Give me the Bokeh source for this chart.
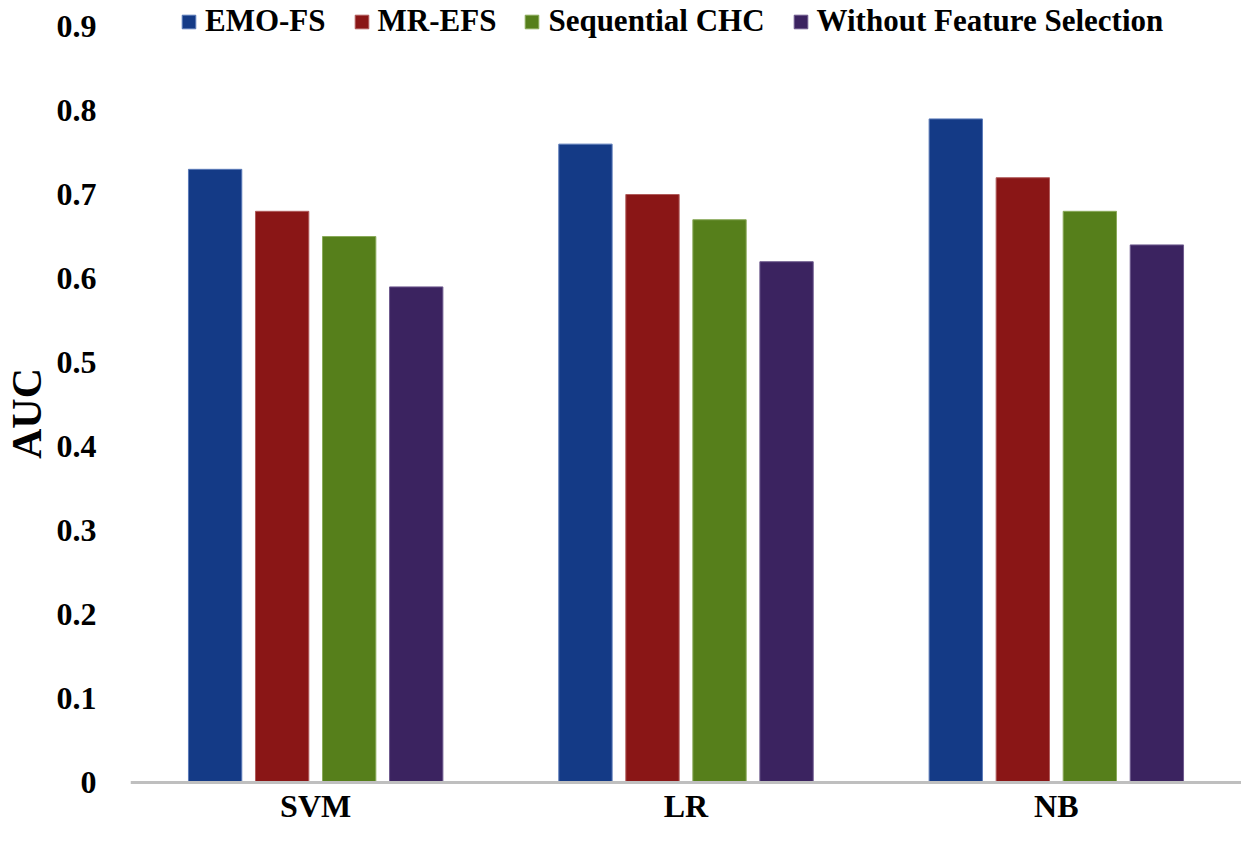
from bokeh.plotting import figure
from bokeh.models import FactorRange, Range1d, Legend, LegendItem, FixedTicker, ColumnDataSource
from bokeh.transform import dodge
from bokeh.embed import file_html
from bokeh.resources import INLINE

classifiers = ["SVM", "LR", "NB"]
methods = ["EMO-FS", "MR-EFS", "Sequential CHC", "Without Feature Selection"]
emo_fs = [0.73, 0.76, 0.79]
mr_efs = [0.68, 0.70, 0.72]
seq_chc = [0.65, 0.67, 0.68]
without_fs = [0.59, 0.62, 0.64]
y_ticks = [0, 0.1, 0.2, 0.3, 0.4, 0.5, 0.6, 0.7, 0.8, 0.9]

fills = ["#143A86", "#8A1616", "#567F1B", "#3B2360"]
edges = ["#5A7AB8", "#B05A5A", "#8AAA5A", "#6E5A8E"]
FONT = "Liberation Serif"

src = ColumnDataSource(dict(cls=classifiers, emo=emo_fs, mr=mr_efs, seq=seq_chc, wfs=without_fs))

p = figure(width=1241, height=826, output_backend="svg", toolbar_location=None,
           x_range=FactorRange(*classifiers, range_padding=0), y_range=Range1d(-0.0524, 0.931))
p.min_border_left = 124
p.min_border_right = 0
p.min_border_top = 0
p.min_border_bottom = 0
p.outline_line_color = None
p.grid.grid_line_color = None
p.background_fill_color = "white"

offsets = [-0.2715, -0.0905, 0.0905, 0.2715]
cols = ["emo", "mr", "seq", "wfs"]
renderers = []
for col, off, fc, ec in zip(cols, offsets, fills, edges):
    r = p.vbar(x=dodge("cls", off, range=p.x_range), top=col, width=0.144, bottom=0,
               source=src, fill_color=fc, line_color=ec, line_width=1)
    renderers.append(r)

# y axis
ya = p.yaxis[0]
ya.ticker = FixedTicker(ticks=y_ticks)
ya.major_label_overrides = {0: "0"}
ya.axis_line_color = None
ya.major_tick_line_color = None
ya.minor_tick_line_color = None
ya.major_label_text_font = FONT
ya.major_label_text_font_style = "bold"
ya.major_label_text_font_size = "32px"
ya.major_label_text_color = "black"
ya.major_label_standoff = 28
ya.axis_label = "AUC"
ya.axis_label_text_font = FONT
ya.axis_label_text_font_style = "bold"
ya.axis_label_text_font_size = "42px"
ya.axis_label_text_color = "black"
ya.axis_label_standoff = 4

# x axis drawn at y = 0
xa = p.xaxis[0]
xa.fixed_location = 0
xa.axis_line_color = "#BFBFBF"
xa.axis_line_width = 3
xa.major_tick_line_color = None
xa.minor_tick_line_color = None
xa.major_label_text_font = FONT
xa.major_label_text_font_style = "bold"
xa.major_label_text_font_size = "32px"
xa.major_label_text_color = "black"
xa.major_label_standoff = 0

legend = Legend(items=[LegendItem(label=m, renderers=[r]) for m, r in zip(methods, renderers)],
                orientation="horizontal", location=(50, 787),
                glyph_width=17, glyph_height=17, label_standoff=8, spacing=27,
                padding=0, margin=0, border_line_color=None, background_fill_alpha=0,
                label_text_font=FONT, label_text_font_style="bold",
                label_text_font_size="31px", label_text_color="black")
p.add_layout(legend, "center")

open("out.html", "w").write(file_html(p, INLINE))
